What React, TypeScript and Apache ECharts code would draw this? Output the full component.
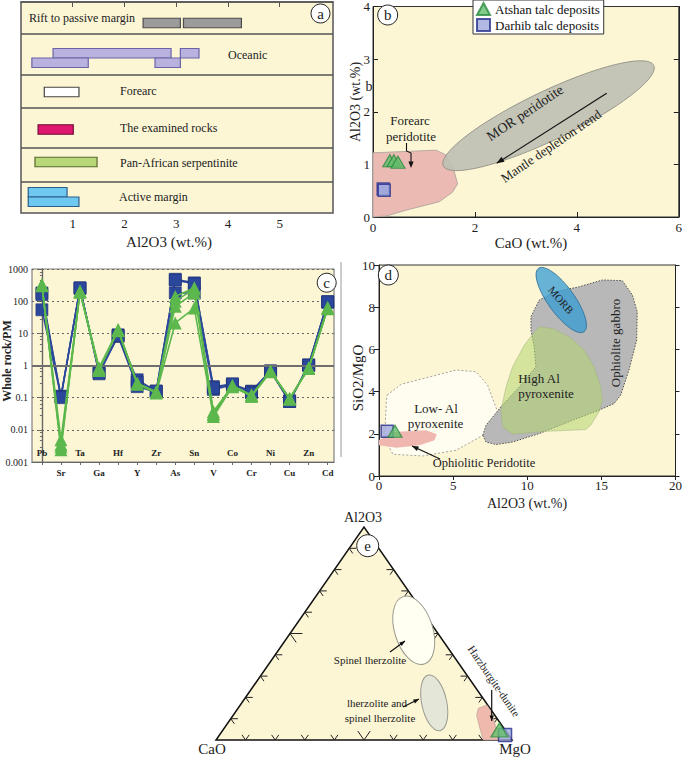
import React, { useEffect, useRef } from "react";
import * as echarts from "echarts";

const SERIF = "Liberation Serif";
const PAPER = "#fcf6d5";

// ---------- Panel a : Al2O3 ranges per tectonic setting ----------
const SETTINGS = ["Rift to passive margin", "Oceanic", "Forearc", "The examined rocks", "Pan-African serpentinite", "Active margin"];
const SETTING_FILL = ["#9b9b9b", "#b9b2de", "#ffffff", "#e0176f", "#b8d878", "#6fc8ef"];
const SETTING_EDGE = ["#4d4d4d", "#6a63a8", "#444444", "#6d0d38", "#56682e", "#2b5d8c"];
// [Al2O3 min, Al2O3 max, setting index, tier (-1 upper, 0 single, 1 lower)]
const AL2O3_RANGES = [
  [2.36, 3.08, 0, 0], [3.14, 4.26, 0, 0],
  [0.62, 2.90, 1, -1], [3.08, 3.44, 1, -1], [0.21, 1.30, 1, 1], [2.59, 3.08, 1, 1],
  [0.45, 1.12, 2, 0],
  [0.33, 1.01, 3, 0],
  [0.27, 1.47, 4, 0],
  [0.14, 0.89, 5, -1], [0.14, 1.12, 5, 1],
];
const AL_TICKS = [1, 2, 3, 4, 5];

// ---------- Panel b : CaO vs Al2O3 ----------
const ATSHAN_CAO_AL = [[0.33, 1.07], [0.41, 1.07], [0.49, 1.04]];
const DARHIB_CAO_AL = [[0.2, 0.53], [0.22, 0.51]];
const FOREARC_FIELD = [[0, 1.22], [1.24, 1.27], [1.43, 1.18], [1.59, 0.88], [1.66, 0.63], [1.56, 0.47], [1.3, 0.29], [0.65, 0.13], [0.27, 0.02], [0, 0]];
const MOR_AXIS = [[1.38, 0.97], [5.51, 2.88]];
const MOR_WIDTH = 0.21;

// ---------- Panel c : primitive-mantle normalised ----------
const ELEMENTS = ["Pb", "Sr", "Ta", "Ga", "Hf", "Y", "Zr", "As", "Sn", "V", "Co", "Cr", "Ni", "Cu", "Zn", "Cd"];
const DARHIB_PM_1 = [180, 0.11, 260, 0.6, 9, 0.36, 0.16, 480, 370, 0.22, 0.26, 0.16, 0.68, 0.076, 1.05, 97];
const DARHIB_PM_2 = [54, 0.11, 250, 0.65, 8, 0.22, 0.15, 180, 180, 0.18, 0.25, 0.15, 0.66, 0.08, 1.0, 92];
const DARHIB_PM_3 = [160, 0.1, 255, 0.55, 8.5, 0.3, 0.16, 450, 350, 0.2, 0.27, 0.14, 0.67, 0.076, 1.02, 95];
const ATSHAN_PM_1 = [320, 0.0049, 200, 0.85, 13, 0.28, 0.15, 140, 260, 0.037, 0.23, 0.11, 0.66, 0.095, 0.83, 62];
const ATSHAN_PM_2 = [300, 0.0035, 190, 0.75, 12, 0.27, 0.15, 69, 180, 0.03, 0.23, 0.12, 0.65, 0.09, 0.8, 60];
const ATSHAN_PM_3 = [310, 0.0024, 195, 0.8, 12.5, 0.26, 0.14, 21, 61, 0.026, 0.22, 0.11, 0.64, 0.092, 0.82, 58];
const ATSHAN_PM_4 = [330, 0.003, 200, 0.7, 13, 0.28, 0.15, 100, 240, 0.033, 0.24, 0.12, 0.66, 0.095, 0.83, 64];

// ---------- Panel d : Al2O3 vs SiO2/MgO ----------
const ATSHAN_AL_SIMG = [[1.08, 2.12]];
const DARHIB_AL_SIMG = [[0.55, 2.12]];
const LOW_AL_FIELD = [[0.54, 3.83], [1.5, 4.35], [5.2, 5.02], [6.55, 4.94], [7.33, 4.3], [8.0, 3.04], [7.22, 2.01], [5.2, 1.22], [2.96, 0.95], [0.94, 1.03], [0.38, 1.77], [0.49, 3.43]];
const PERIDOTITE_FIELD = [[0, 1.69], [0.94, 2.09], [3.18, 2.17], [3.9, 1.98], [3.74, 1.69], [2.74, 1.46], [1.17, 1.34], [0, 1.46]];
const GABBRO_FIELD = [[7.0, 1.93], [7.22, 2.41], [8.23, 3.28], [9.46, 4.22], [10.58, 5.17], [10.47, 6.12], [10.25, 6.91], [10.25, 7.55], [10.81, 8.34], [11.93, 8.73], [13.5, 8.97], [15.07, 9.29], [16.41, 9.26], [17.09, 8.58], [17.42, 7.78], [17.38, 6.44], [16.86, 5.02], [16.3, 3.83], [15.85, 3.43], [14.84, 3.12], [13.05, 2.64], [10.81, 2.01], [9.01, 1.61], [7.89, 1.49], [7.22, 1.61]];
const HIGH_AL_FIELD = [[8.34, 2.33], [8.23, 3.12], [8.57, 4.22], [9.01, 5.17], [9.8, 6.2], [10.58, 6.91], [10.81, 7.07], [11.7, 6.99], [12.83, 6.6], [13.83, 5.97], [14.51, 5.17], [14.96, 4.22], [15.07, 3.59], [14.84, 3.04], [14.28, 2.41], [13.95, 2.2], [11.26, 2.12], [9.01, 1.98]];
const MORB_AXIS = [[10.76, 9.84], [13.83, 6.84]];
const MORB_WIDTH = 0.34;

// ---------- Panel e : CaO - MgO - Al2O3 ternary [CaO, MgO, Al2O3] ----------
const ATSHAN_TERN = [[0.019, 0.934, 0.047]];
const DARHIB_TERN = [[0.012, 0.965, 0.023]];
const HARZBURGITE_FIELD = [[0.039, 0.812, 0.149], [0.003, 0.833, 0.164], [0.003, 0.861, 0.136], [0.041, 0.959, 0.0], [0.097, 0.903, 0.0], [0.079, 0.859, 0.062], [0.061, 0.822, 0.117]];
const SPINEL_AXIS = [[0.031, 0.296, 0.673], [0.118, 0.525, 0.357]];
const SPINEL_WIDTH = 0.54;
const LHERZ_AXIS = [[0.13, 0.565, 0.305], [0.221, 0.735, 0.044]];
const LHERZ_WIDTH = 0.44;
const TERNARY_TICKS = [0.1, 0.2, 0.3, 0.4, 0.5, 0.6, 0.7, 0.8, 0.9];

// layout of panel a rows (in panel pixel units from its top)
const ROW_EDGES = [32, 73, 106, 146, 180];
const ROW_BAR_Y = [21, 56, 90, 127.5, 160, 195];
const BAR_H = 9.5;

const tern = (c: number[]) => {
  const s = c[0] + c[1] + c[2];
  const mg = c[1] / s;
  const al = c[2] / s;
  return [mg + al / 2, al];
};

const ellipseRender = (axis: number[][], ratio: number, style: any) => (_p: any, api: any) => {
  const p1 = api.coord(axis[0]);
  const p2 = api.coord(axis[1]);
  const dx = p2[0] - p1[0];
  const dy = p2[1] - p1[1];
  const rx = Math.hypot(dx, dy) / 2;
  return {
    type: "ellipse",
    x: (p1[0] + p2[0]) / 2,
    y: (p1[1] + p2[1]) / 2,
    rotation: -Math.atan2(dy, dx),
    shape: { cx: 0, cy: 0, rx, ry: rx * ratio },
    style,
  };
};

const polygonRender = (pts: number[][], style: any) => (_p: any, api: any) => ({
  type: "polygon",
  shape: { points: pts.map((p) => api.coord(p)) },
  style,
});

const txt = (x: number, y: number, text: string, size: number, o: any = {}) => ({
  type: "text",
  x,
  y,
  rotation: o.rot || 0,
  z: 60,
  style: {
    text,
    x: 0,
    y: 0,
    fontFamily: SERIF,
    fontSize: size,
    fontWeight: o.bold ? "bold" : "normal",
    fill: o.color || "#222",
    align: o.align || "center",
    verticalAlign: "middle",
    textAlign: o.align || "center",
    textVerticalAlign: "middle",
  },
});

const arrowHead = (x1: number, y1: number, x2: number, y2: number, head = 7) => {
  const a = Math.atan2(y2 - y1, x2 - x1);
  return {
    type: "polygon",
    z: 60,
    shape: {
      points: [
        [x2, y2],
        [x2 - head * Math.cos(a - 0.38), y2 - head * Math.sin(a - 0.38)],
        [x2 - head * Math.cos(a + 0.38), y2 - head * Math.sin(a + 0.38)],
      ],
    },
    style: { fill: "#111" },
  };
};
const arrow = (x1: number, y1: number, x2: number, y2: number, head = 7) => [
  { type: "line", z: 60, shape: { x1, y1, x2, y2 }, style: { stroke: "#111", lineWidth: 1.2 } },
  arrowHead(x1, y1, x2, y2, head),
];

const badge = (x: number, y: number, r: number, letter: string) => [
  { type: "circle", z: 60, shape: { cx: x, cy: y, r }, style: { fill: "#fff", stroke: "#222", lineWidth: 1 } },
  txt(x, y, letter, 15),
];

function buildOption(): any {
  const axisFont = { fontFamily: SERIF, fontSize: 12, color: "#222" };
  const blackLine = { show: true, lineStyle: { color: "#222", width: 1 } };
  const idx = ELEMENTS.map((_, i) => i);
  const evenIdx = idx.filter((i) => i % 2 === 0);
  const oddIdx = idx.filter((i) => i % 2 === 1);
  const elemFmt = (v: number) => ELEMENTS[Math.round(v)] || "";

  const pm = (arr: number[]) => arr.map((v, i) => [i, v]);

  const darhibLine = (arr: number[], i: number) => ({
    type: "line",
    name: "Darhib talc deposits",
    xAxisIndex: 2,
    yAxisIndex: 3,
    data: pm(arr),
    symbol: "rect",
    symbolSize: 12,
    lineStyle: { color: "#2b479b", width: 1.6 },
    itemStyle: { color: "#2b479b", borderColor: "#1c2f73", borderWidth: 0.6 },
    z: 4,
    ...(i === 0
      ? {
          markLine: {
            silent: true,
            symbol: "none",
            label: { show: false },
            lineStyle: { color: "#6e6e6e", width: 2, type: "solid" },
            data: [{ yAxis: 1 }],
          },
        }
      : {}),
  });
  const atshanLine = (arr: number[]) => ({
    type: "line",
    name: "Atshan talc deposits",
    xAxisIndex: 2,
    yAxisIndex: 3,
    data: pm(arr),
    symbol: "triangle",
    symbolSize: 13,
    lineStyle: { color: "#5cb84c", width: 1.6 },
    itemStyle: { color: "#5cb84c" },
    z: 5,
  });

  const triStyle = { color: "#63be6c", borderColor: "#2b8a3e", borderWidth: 1.2 };
  const sqStyle = { color: "#9fa7dc", borderColor: "#262f8c", borderWidth: 1.5 };

  const series: any[] = [
    { type: "scatter", name: "Atshan talc deposits", xAxisIndex: 1, yAxisIndex: 1, data: ATSHAN_CAO_AL, symbol: "triangle", symbolSize: [14, 12], itemStyle: triStyle, z: 6 },
    { type: "scatter", name: "Darhib talc deposits", xAxisIndex: 1, yAxisIndex: 1, data: DARHIB_CAO_AL, symbol: "rect", symbolSize: 12, itemStyle: sqStyle, z: 6 },
    {
      type: "custom",
      name: "ranges",
      xAxisIndex: 0,
      yAxisIndex: 0,
      data: AL2O3_RANGES,
      z: 3,
      renderItem: (_p: any, api: any) => {
        const x0 = api.value(0);
        const x1 = api.value(1);
        const row = api.value(2);
        const tier = api.value(3);
        const c = ROW_BAR_Y[row];
        const top = tier === 0 ? c - BAR_H / 2 : tier < 0 ? c - BAR_H : c;
        const a = api.coord([x0, top]);
        const b = api.coord([x1, top + BAR_H]);
        return {
          type: "rect",
          shape: { x: a[0], y: a[1], width: b[0] - a[0], height: b[1] - a[1] },
          style: { fill: SETTING_FILL[row], stroke: SETTING_EDGE[row], lineWidth: 1.2 },
        };
      },
      markLine: {
        silent: true,
        symbol: "none",
        label: { show: false },
        lineStyle: { color: "#555", width: 1.5, type: "solid" },
        data: ROW_EDGES.map((v) => ({ yAxis: v })),
      },
    },
    { type: "custom", name: "forearc", xAxisIndex: 1, yAxisIndex: 1, data: [[0, 0]], z: 1, silent: true, renderItem: polygonRender(FOREARC_FIELD, { fill: "#ebbab3", stroke: "#a9a09a", lineWidth: 0.8 }) },
    { type: "custom", name: "mor", xAxisIndex: 1, yAxisIndex: 1, data: [[0, 0]], z: 2, silent: true, renderItem: ellipseRender(MOR_AXIS, MOR_WIDTH, { fill: "rgba(190,192,178,0.9)", stroke: "#8f8f86", lineWidth: 0.8 }) },
    darhibLine(DARHIB_PM_1, 0),
    darhibLine(DARHIB_PM_2, 1),
    darhibLine(DARHIB_PM_3, 2),
    atshanLine(ATSHAN_PM_1),
    atshanLine(ATSHAN_PM_2),
    atshanLine(ATSHAN_PM_3),
    atshanLine(ATSHAN_PM_4),
    { type: "custom", name: "lowal", xAxisIndex: 4, yAxisIndex: 5, data: [[0, 0]], z: 1, silent: true, renderItem: polygonRender(LOW_AL_FIELD, { fill: "#fffdf0", stroke: "#8a8a8a", lineWidth: 0.8, lineDash: [2, 2] }) },
    { type: "custom", name: "perid", xAxisIndex: 4, yAxisIndex: 5, data: [[0, 0]], z: 2, silent: true, renderItem: polygonRender(PERIDOTITE_FIELD, { fill: "#f0b7b0", stroke: "none" }) },
    { type: "custom", name: "gabbro", xAxisIndex: 4, yAxisIndex: 5, data: [[0, 0]], z: 2, silent: true, renderItem: polygonRender(GABBRO_FIELD, { fill: "#b8b8b8", stroke: "#444", lineWidth: 0.9, lineDash: [1.5, 1.5] }) },
    { type: "custom", name: "highal", xAxisIndex: 4, yAxisIndex: 5, data: [[0, 0]], z: 3, silent: true, renderItem: polygonRender(HIGH_AL_FIELD, { fill: "rgba(178,214,112,0.55)", stroke: "#9fb07a", lineWidth: 0.5 }) },
    { type: "custom", name: "morb", xAxisIndex: 4, yAxisIndex: 5, data: [[0, 0]], z: 4, silent: true, renderItem: ellipseRender(MORB_AXIS, MORB_WIDTH, { fill: "rgba(52,156,212,0.75)", stroke: "#2e6f99", lineWidth: 0.8 }) },
    { type: "scatter", name: "Darhib talc deposits", xAxisIndex: 4, yAxisIndex: 5, data: DARHIB_AL_SIMG, symbol: "rect", symbolSize: 12, itemStyle: sqStyle, z: 6 },
    { type: "scatter", name: "Atshan talc deposits", xAxisIndex: 4, yAxisIndex: 5, data: ATSHAN_AL_SIMG, symbol: "triangle", symbolSize: [14, 12], itemStyle: triStyle, z: 6 },
    {
      type: "custom", name: "triangle", xAxisIndex: 5, yAxisIndex: 7, data: [[0, 0]], z: 1, silent: true,
      renderItem: (_p: any, api: any) => ({
        type: "polygon",
        shape: { points: [tern([1, 0, 0]), tern([0, 1, 0]), tern([0, 0, 1])].map((p) => api.coord(p)) },
        style: { fill: PAPER, stroke: "#111", lineWidth: 1.5 },
      }),
    },
    {
      type: "custom", name: "ternticks", xAxisIndex: 5, yAxisIndex: 7, data: [[0, 0]], z: 2, silent: true,
      renderItem: (_p: any, api: any) => {
        const children: any[] = [];
        const edges = [
          { at: (t: number) => [t, 0], dirs: [[0.5, 1], [-0.5, 1]] },
          { at: (t: number) => [t / 2, t], dirs: [[1, 0], [0.5, -1]] },
          { at: (t: number) => [1 - t / 2, t], dirs: [[-1, 0], [-0.5, -1]] },
        ];
        edges.forEach((e) => {
          TERNARY_TICKS.forEach((t) => {
            const base = e.at(t);
            const s = t === 0.5 ? 0.042 : 0.024;
            const p0 = api.coord(base);
            e.dirs.forEach((d) => {
              const p1 = api.coord([base[0] + d[0] * s, base[1] + d[1] * s]);
              children.push({ type: "line", shape: { x1: p0[0], y1: p0[1], x2: p1[0], y2: p1[1] }, style: { stroke: "#222", lineWidth: 1 } });
            });
          });
        });
        return { type: "group", children };
      },
    },
    { type: "custom", name: "spinel", xAxisIndex: 5, yAxisIndex: 7, data: [[0, 0]], z: 3, silent: true, renderItem: ellipseRender(SPINEL_AXIS.map(tern), SPINEL_WIDTH, { fill: "#fffff2", stroke: "#9a9a90", lineWidth: 1 }) },
    { type: "custom", name: "lherz", xAxisIndex: 5, yAxisIndex: 7, data: [[0, 0]], z: 3, silent: true, renderItem: ellipseRender(LHERZ_AXIS.map(tern), LHERZ_WIDTH, { fill: "#e4e7d8", stroke: "#9a9a90", lineWidth: 1 }) },
    { type: "custom", name: "harz", xAxisIndex: 5, yAxisIndex: 7, data: [[0, 0]], z: 3, silent: true, renderItem: polygonRender(HARZBURGITE_FIELD.map(tern), { fill: "#efb9ae", stroke: "#b49a95", lineWidth: 0.6 }) },
    { type: "scatter", name: "Darhib talc deposits", xAxisIndex: 5, yAxisIndex: 7, data: DARHIB_TERN.map(tern), symbol: "rect", symbolSize: 13, itemStyle: sqStyle, z: 6 },
    { type: "scatter", name: "Atshan talc deposits", xAxisIndex: 5, yAxisIndex: 7, data: ATSHAN_TERN.map(tern), symbol: "triangle", symbolSize: [17, 14], itemStyle: triStyle, z: 7 },
  ];

  const graphics: any[] = [
    txt(29, 18, SETTINGS[0], 12, { align: "left" }),
    txt(228, 55, SETTINGS[1], 12, { align: "left" }),
    txt(120, 91, SETTINGS[2], 12, { align: "left" }),
    txt(120, 128, SETTINGS[3], 12, { align: "left" }),
    txt(120, 163, SETTINGS[4], 12, { align: "left" }),
    txt(119, 197, SETTINGS[5], 12, { align: "left" }),
    ...badge(320.5, 13.5, 9.5, "a"),
    txt(169, 242, "Al2O3 (wt.%)", 15),
    ...badge(387.7, 15, 10, "b"),
    txt(355, 102, "Al2O3 (wt.%)", 14, { rot: Math.PI / 2 }),
    txt(369, 86, "b", 14),
    txt(531, 243, "CaO (wt.%)", 15),
    txt(410, 120, "Forearc", 13),
    txt(411, 136, "peridotite", 13),
    { type: "polyline", z: 60, shape: { points: [[406.5, 143], [406.5, 151], [411, 153], [411, 162]] }, style: { stroke: "#111", lineWidth: 1.1, fill: "none" } },
    arrowHead(411, 158, 411, 168, 7),
    txt(525, 113, "MOR peridotite", 14, { rot: 0.59 }),
    txt(551, 146, "Mantle depletion trend", 13, { rot: 0.6 }),
    ...arrow(606.7, 93.3, 496.7, 163.3, 8),
    ...badge(326.7, 282.7, 9.5, "c"),
    txt(7, 361, "Whole rock/PM", 12, { rot: Math.PI / 2, bold: true }),
    { type: "line", z: 60, shape: { x1: 341, y1: 262, x2: 341, y2: 457 }, style: { stroke: "#9a9a9a", lineWidth: 1 } },
    ...badge(388.3, 275, 10, "d"),
    txt(358, 378, "SiO2/MgO", 15, { rot: Math.PI / 2 }),
    txt(527, 503, "Al2O3 (wt.%)", 14),
    txt(561, 300, "MORB", 11, { rot: -0.87 }),
    txt(615, 343, "Ophiolite gabbro", 13, { rot: Math.PI / 2 }),
    txt(539, 378, "High Al", 13),
    txt(546, 393, "pyroxenite", 13),
    txt(436, 408, "Low- Al", 13),
    txt(435.5, 423, "pyroxenite", 13),
    txt(484, 463, "Ophiolitic Peridotite", 12.5),
    ...arrow(440, 459, 412, 446, 7),
    txt(363, 517, "Al2O3", 14),
    txt(212, 749, "CaO", 15),
    txt(515, 749, "MgO", 15),
    ...badge(367.7, 545.7, 11, "e"),
    txt(370, 660, "Spinel lherzolite", 11),
    ...arrow(390, 652, 405, 641, 6),
    txt(377, 703, "lherzolite and", 11),
    txt(380, 718, "spinel lherzolite", 11),
    ...arrow(403, 707, 419, 699, 6),
    txt(494, 681, "Harzburgite-dunite", 11, { rot: -0.97 }),
    ...arrow(491.7, 690, 491.7, 721, 6),
  ];

  return {
    animation: false,
    backgroundColor: "#ffffff",
    textStyle: { fontFamily: SERIF },
    legend: {
      left: 473,
      top: 0,
      orient: "vertical",
      selectedMode: false,
      data: [
        { name: "Atshan talc deposits", icon: "triangle" },
        { name: "Darhib talc deposits", icon: "rect" },
      ],
      itemWidth: 13,
      itemHeight: 12,
      itemGap: 2,
      padding: [2, 4, 2, 3],
      backgroundColor: "#ffffff",
      borderColor: "#333",
      borderWidth: 1,
      borderRadius: 0,
      textStyle: { fontFamily: SERIF, fontSize: 13, color: "#111" },
      z: 20,
    },
    grid: [
      { left: 21, top: 2, width: 312, height: 211, show: true, backgroundColor: PAPER, borderColor: "#555", borderWidth: 1.5 },
      { left: 373, top: 3, width: 309, height: 214, show: true, backgroundColor: PAPER, borderColor: "#333", borderWidth: 1 },
      { left: 32, top: 269, width: 302, height: 193, show: true, backgroundColor: PAPER, borderColor: "#808080", borderWidth: 1.2 },
      { left: 379, top: 265, width: 300, height: 211, show: true, backgroundColor: PAPER, borderColor: "#333", borderWidth: 1 },
      { left: 216, top: 527, width: 296, height: 213, show: false },
    ],
    xAxis: [
      {
        gridIndex: 0, type: "value", min: 0, max: 6.03,
        axisLine: { show: true, lineStyle: { color: "#555", width: 1.5 } },
        axisTick: { show: true, customValues: AL_TICKS, length: 5, lineStyle: { color: "#555" } },
        axisLabel: { customValues: AL_TICKS, ...axisFont, fontSize: 13, margin: 4 },
        splitLine: { show: false },
      },
      {
        gridIndex: 1, type: "value", min: 0, max: 6, interval: 2,
        axisLine: blackLine,
        axisTick: { show: true, inside: true, length: 5, lineStyle: { color: "#222" } },
        axisLabel: { ...axisFont, fontSize: 13, margin: 4 },
        splitLine: { show: false },
      },
      {
        gridIndex: 2, type: "value", min: -0.52, max: 15.33,
        axisLine: { show: true, lineStyle: { color: "#666", width: 1.2 } },
        axisTick: { show: true, customValues: idx, length: 3, lineStyle: { color: "#666" } },
        axisLabel: { customValues: oddIdx, formatter: elemFmt, fontFamily: SERIF, fontSize: 9, fontWeight: "bold", color: "#222", margin: 6 },
        splitLine: { show: false },
      },
      {
        gridIndex: 2, type: "value", min: -0.52, max: 15.33, position: "bottom",
        axisLine: { show: false },
        axisTick: { show: false },
        axisLabel: { inside: true, customValues: evenIdx, formatter: elemFmt, fontFamily: SERIF, fontSize: 9, fontWeight: "bold", color: "#222", margin: 5 },
        splitLine: { show: false },
      },
      {
        gridIndex: 3, type: "value", min: 0, max: 20, interval: 5,
        axisLine: blackLine,
        axisTick: { show: true, length: 4, lineStyle: { color: "#222" } },
        axisLabel: { ...axisFont, fontSize: 13, margin: 3 },
        splitLine: { show: false },
      },
      { gridIndex: 4, type: "value", min: 0, max: 1, show: false },
    ],
    yAxis: [
      { gridIndex: 0, type: "value", min: 0, max: 211, inverse: true, show: false },
      {
        gridIndex: 1, type: "value", min: 0, max: 4, interval: 1,
        axisLine: blackLine,
        axisTick: { show: true, inside: true, length: 5, lineStyle: { color: "#222" } },
        axisLabel: { ...axisFont, fontSize: 13, margin: 3 },
        splitLine: { show: false },
      },
      {
        gridIndex: 1, type: "value", position: "right", min: 0, max: 4, interval: 1,
        axisLine: blackLine,
        axisTick: { show: true, inside: true, length: 5, lineStyle: { color: "#222" } },
        axisLabel: { show: false },
        splitLine: { show: false },
      },
      {
        gridIndex: 2, type: "log", logBase: 10, min: 0.001, max: 1000, interval: 1,
        axisLine: { show: true, lineStyle: { color: "#666", width: 1.2 } },
        axisTick: { show: true, length: 4, lineStyle: { color: "#666" } },
        minorTick: { show: true, splitNumber: 5, length: 2, lineStyle: { color: "#666" } },
        axisLabel: { fontFamily: SERIF, fontSize: 10, color: "#222", margin: 4, formatter: (v: number) => String(+Number(v).toPrecision(2)) },
        splitLine: { show: true, lineStyle: { type: [2, 3], color: "#666", width: 1 } },
      },
      {
        gridIndex: 2, type: "log", logBase: 10, min: 0.001, max: 1000, interval: 1, position: "right",
        axisLine: { show: true, lineStyle: { color: "#666", width: 1.2 } },
        axisTick: { show: true, inside: true, length: 4, lineStyle: { color: "#666" } },
        axisLabel: { show: false },
        splitLine: { show: false },
      },
      {
        gridIndex: 3, type: "value", min: 0, max: 10, interval: 2,
        axisLine: blackLine,
        axisTick: { show: true, length: 5, lineStyle: { color: "#222" } },
        axisLabel: { ...axisFont, fontSize: 13, margin: 4 },
        splitLine: { show: false },
      },
      {
        gridIndex: 3, type: "value", position: "right", min: 0, max: 10, interval: 2,
        axisLine: blackLine,
        axisTick: { show: true, length: 4, lineStyle: { color: "#222" } },
        axisLabel: { show: false },
        splitLine: { show: false },
      },
      { gridIndex: 4, type: "value", min: 0, max: 1, show: false },
    ],
    series,
    graphic: { elements: graphics },
  };
}

export default function App() {
  const ref = useRef<HTMLDivElement>(null);
  useEffect(() => {
    if (!ref.current) return;
    const chart = echarts.init(ref.current, null, { renderer: "svg" });
    chart.setOption(buildOption());
    return () => chart.dispose();
  }, []);
  return (
    <div
      ref={ref}
      style={{ position: "absolute", left: 0, top: 0, width: 685, height: 758, background: "#fff" }}
    />
  );
}
